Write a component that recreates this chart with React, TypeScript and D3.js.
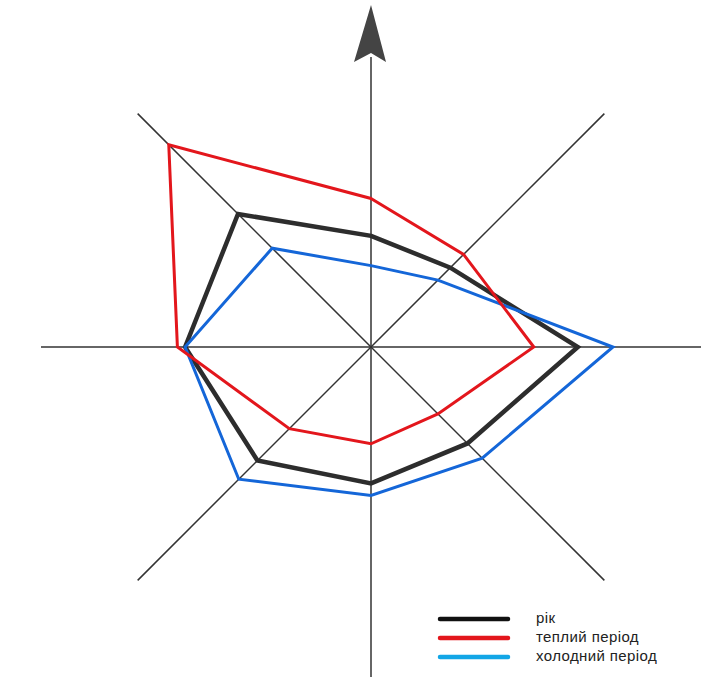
import * as d3 from 'd3';

const directions = ['Пн', 'ПнСх', 'Сх', 'ПдСх', 'Пд', 'ПдЗх', 'Зх', 'ПнЗх'];
// frequency, %
const year = [10.1, 10.2, 18.8, 12.4, 12.4, 14.6, 16.9, 17.1];
const warm = [13.5, 11.9, 14.8, 8.6, 8.8, 10.5, 17.6, 26.0];
const cold = [7.4, 8.6, 22.0, 14.3, 13.5, 17.0, 16.9, 12.7];

const series = [
  { name: 'рік', values: year, color: '#2d2d2d', legend: '#111', width: 4.5 },
  { name: 'холодний період', values: cold, color: '#1466d8', legend: '#12a6e6', width: 3 },
  { name: 'теплий період', values: warm, color: '#e3161c', legend: '#e3161c', width: 3 },
];
const legendOrder = ['рік', 'теплий період', 'холодний період'];

const W = 727;
const H = 678;
const cx = 371;
const cy = 347;
const R = 330;

export default function App() {
  const r = d3.scaleLinear().domain([0, 30]).range([0, R]);
  const angle = d3
    .scalePoint<string>()
    .domain(directions)
    .range([0, (2 * Math.PI * 7) / 8]);

  const line = d3
    .lineRadial<number>()
    .angle((_, i) => angle(directions[i])!)
    .radius((d) => r(d))
    .curve(d3.curveLinearClosed);

  return (
    <svg
      width={W}
      height={H}
      style={{ position: 'absolute', left: 0, top: 0, background: '#fff' }}
      fontFamily="Liberation Sans, Arial, sans-serif"
    >
      <g transform={`translate(${cx},${cy})`}>
        {/* axes */}
        {directions.map((d) => {
          const a = angle(d)!;
          const len = d === directions[0] ? R - 40 : R;
          return (
            <line
              key={d}
              x1={0}
              y1={0}
              x2={Math.sin(a) * len}
              y2={-Math.cos(a) * len}
              stroke="#333"
              strokeWidth={1.5}
            />
          );
        })}
        {/* north arrow */}
        <path d={`M0,${-R - 12} L15,${-R + 45} L0,${-R + 36} L-17,${-R + 45} Z`} fill="#444" />

        {series.map((s) => (
          <path
            key={s.name}
            d={line(s.values)!}
            fill="none"
            stroke={s.color}
            strokeWidth={s.width}
            strokeLinejoin="miter"
          />
        ))}
      </g>

      {/* legend */}
      <g transform="translate(440,619)">
        {legendOrder.map((name, i) => {
          const s = series.find((x) => x.name === name)!;
          return (
            <g key={name} transform={`translate(0,${i * 19})`}>
              <line x1={0} x2={68} y1={0} y2={0} stroke={s.legend} strokeWidth={4.5} strokeLinecap="round" />
              <text x={96} y={4} fontSize={15} letterSpacing={0.4} fill="#222">
                {name}
              </text>
            </g>
          );
        })}
      </g>
    </svg>
  );
}
